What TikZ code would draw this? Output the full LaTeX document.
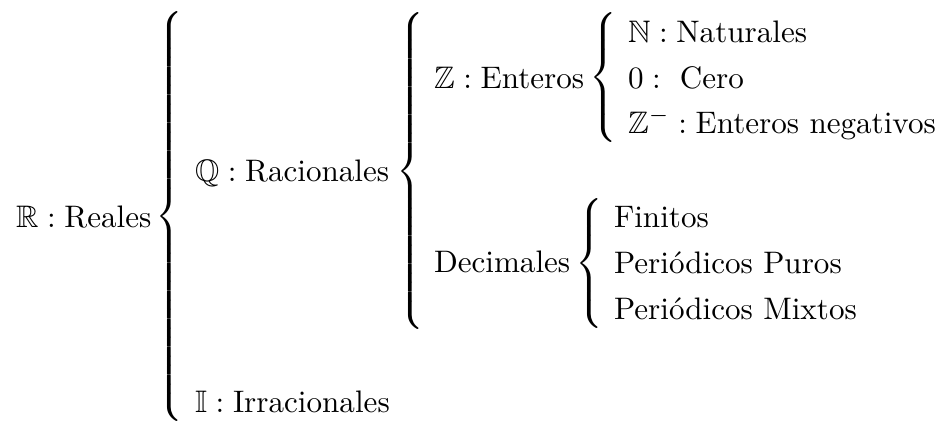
\documentclass[tikz,border=0pt]{standalone}
\usepackage{amsmath,amssymb}
\newcommand{\bigbr}[1]{{\delimiterfactor=1000\delimitershortfall=0pt\nulldelimiterspace=0pt$\left\{\vcenter{\hbox{\rule{0pt}{#1}}}\right.$}}
\begin{document}
\begin{tikzpicture}[x={(0.3215pt,0)},y={(0,-0.3215pt)},
  lbl/.style={anchor=base west,inner sep=0pt,outer sep=0pt},
  brc/.style={anchor=center,inner sep=0pt,outer sep=0pt}]
\useasboundingbox (0,0) rectangle (942,425);
% labels
\node[lbl] (R) at (16,227) {$\mathbb{R}:\text{Reales}$};
\node[lbl] (Q) at (195,181) {$\mathbb{Q}:\text{Racionales}$};
\node[lbl] (I) at (195,412) {$\mathbb{I}:\text{Irracionales}$};
\node[lbl] (Z) at (434,88) {$\mathbb{Z}:\text{Enteros}$};
\node[lbl] (D) at (434,272) {$\text{Decimales}$};
\node[lbl] (N) at (628,42) {$\mathbb{N}:\text{Naturales}$};
\node[lbl] (C) at (628,88) {$0:\ \text{Cero}$};
\node[lbl] (Zn) at (628,133) {$\mathbb{Z}^-:\text{Enteros negativos}$};
\node[lbl] (F) at (614,227) {$\text{Finitos}$};
\node[lbl] (PP) at (614,273) {$\text{Peri\'odicos Puros}$};
\node[lbl] (PM) at (614,319) {$\text{Peri\'odicos Mixtos}$};
% braces
\node[brc] (b1) at (169.5,216.5) {\bigbr{131.5pt}};
\node[brc] (b2) at (410,171) {\bigbr{101.5pt}};
\node[brc] (b3) at (603,77.5) {\bigbr{41.5pt}};
\node[brc] (b4) at (589,263.5) {\bigbr{41.5pt}};
\end{tikzpicture}
\end{document}
